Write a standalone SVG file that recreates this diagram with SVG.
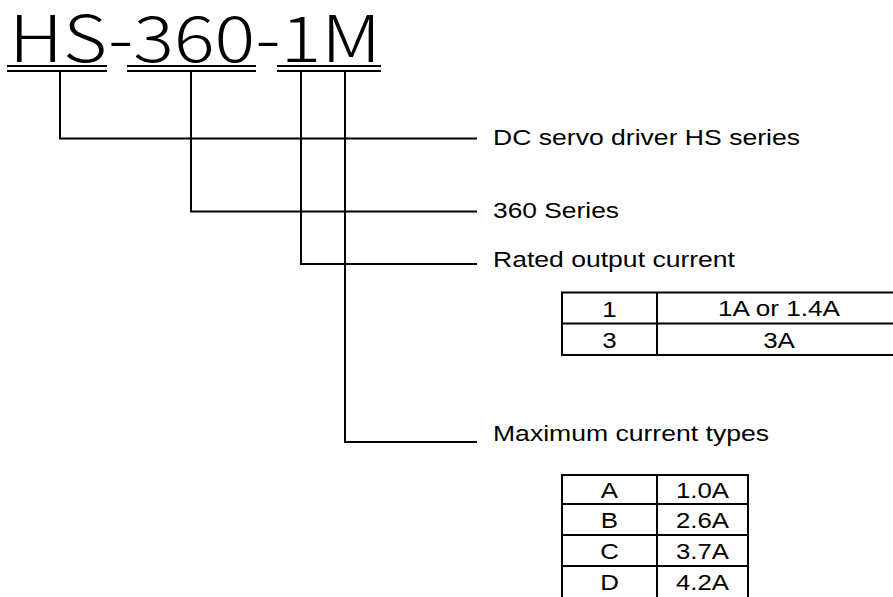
<svg xmlns="http://www.w3.org/2000/svg" width="893" height="597" viewBox="0 0 893 597">
<style>
.t{font-family:"Liberation Sans",Arial,sans-serif;font-size:22px;fill:#000}
.title{font-family:"Noto Sans CJK JP","DejaVu Sans",sans-serif;font-size:64px;font-weight:300;fill:#000}
.ln{stroke:#000;stroke-width:2;fill:none}
.tb{stroke:#000;stroke-width:2;fill:none}
</style>
<rect width="893" height="597" fill="#fff"/>
<g id="title">
<text class="title" x="9" y="62" textLength="372" lengthAdjust="spacingAndGlyphs">HS-360-1M</text>
<path class="ln" d="M7 66H107M7 71H107M127 66H256M127 71H256M277 66H381M277 71H381"/>
</g>
<g id="connectors">
<path class="ln" d="M60 72V138.5H477"/>
<path class="ln" d="M191 72V211.5H477"/>
<path class="ln" d="M301 72V264H477"/>
<path class="ln" d="M345 72V442H477"/>
</g>
<g id="node-series">
<text class="t" x="493" y="145" textLength="307" lengthAdjust="spacingAndGlyphs">DC servo driver HS series</text>
</g>
<g id="node-360">
<text class="t" x="493" y="218" textLength="126" lengthAdjust="spacingAndGlyphs">360 Series</text>
</g>
<g id="node-rated">
<text class="t" x="493" y="267" textLength="242" lengthAdjust="spacingAndGlyphs">Rated output current</text>
</g>
<g id="table-rated">
<path class="tb" d="M905 292.5H562V355H905M562 323.5H905M657 292.5V355"/>
<text class="t" x="609.5" y="316.5" text-anchor="middle" textLength="14.4" lengthAdjust="spacingAndGlyphs">1</text>
<text class="t" x="609.5" y="347.5" text-anchor="middle" textLength="14.4" lengthAdjust="spacingAndGlyphs">3</text>
<text class="t" x="779" y="316" text-anchor="middle" textLength="122" lengthAdjust="spacingAndGlyphs">1A or 1.4A</text>
<text class="t" x="779" y="347.5" text-anchor="middle" textLength="31.7" lengthAdjust="spacingAndGlyphs">3A</text>
</g>
<g id="node-max">
<text class="t" x="493" y="441" textLength="276" lengthAdjust="spacingAndGlyphs">Maximum current types</text>
</g>
<g id="table-max">
<path class="tb" d="M562 600V475H748V600M562 504H748M562 535H748M562 566H748M657 475V600"/>
<text class="t" x="609.5" y="498" text-anchor="middle" textLength="17.3" lengthAdjust="spacingAndGlyphs">A</text>
<text class="t" x="609.5" y="528" text-anchor="middle" textLength="17.3" lengthAdjust="spacingAndGlyphs">B</text>
<text class="t" x="609.5" y="559" text-anchor="middle" textLength="18.7" lengthAdjust="spacingAndGlyphs">C</text>
<text class="t" x="609.5" y="590" text-anchor="middle" textLength="18.7" lengthAdjust="spacingAndGlyphs">D</text>
<text class="t" x="702.5" y="498" text-anchor="middle" textLength="53" lengthAdjust="spacingAndGlyphs">1.0A</text>
<text class="t" x="702.5" y="528" text-anchor="middle" textLength="53" lengthAdjust="spacingAndGlyphs">2.6A</text>
<text class="t" x="702.5" y="559" text-anchor="middle" textLength="53" lengthAdjust="spacingAndGlyphs">3.7A</text>
<text class="t" x="702.5" y="590" text-anchor="middle" textLength="53" lengthAdjust="spacingAndGlyphs">4.2A</text>
</g>
</svg>
